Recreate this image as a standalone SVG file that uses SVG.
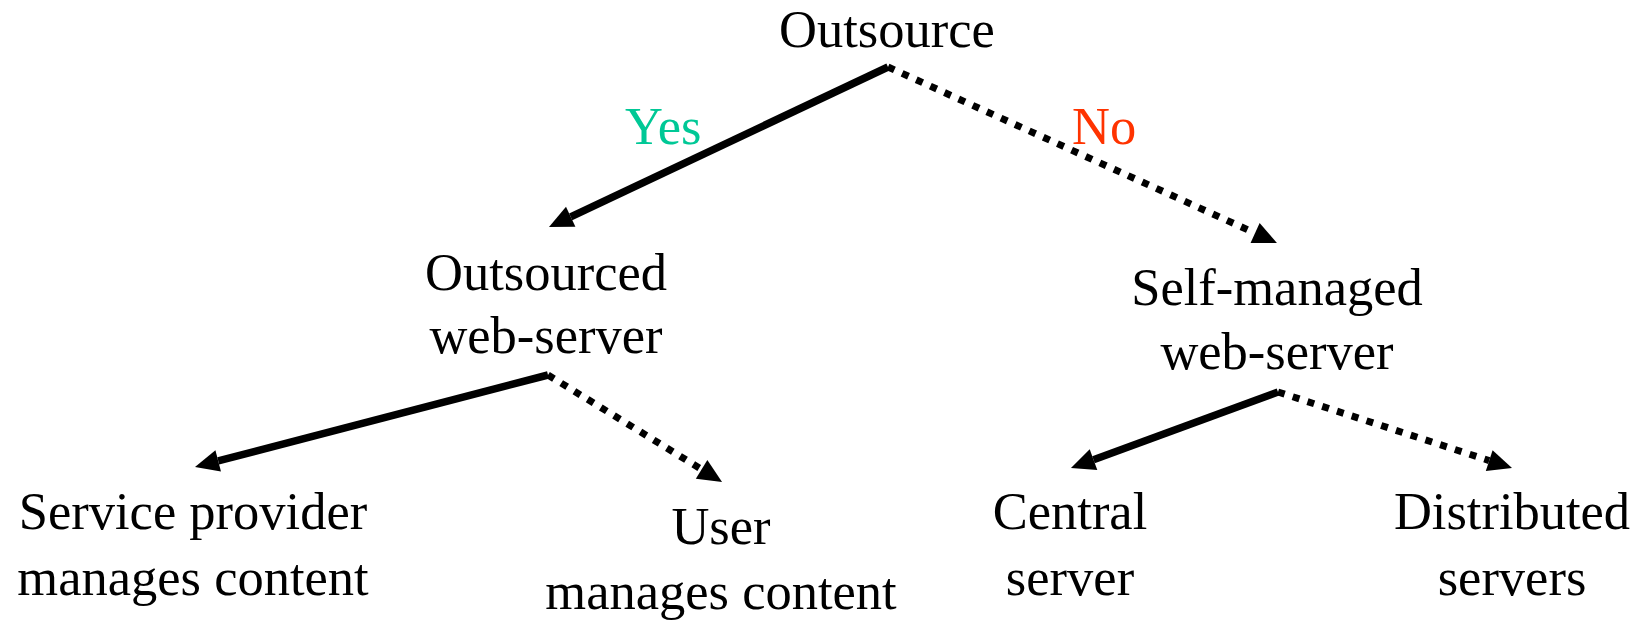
<svg xmlns="http://www.w3.org/2000/svg" width="1643" height="620" viewBox="0 0 1643 620">
  <style>
    text { font-family: "Liberation Serif", "Times New Roman", serif; font-size: 52.5px; fill: #000; text-anchor: middle; }
    .yes { fill: #00c896; text-anchor: start; }
    .no { fill: #ff3300; text-anchor: start; }
    .solid { stroke: #000; stroke-width: 7.5; fill: none; marker-end: url(#head); }
    .dotted { stroke: #000; stroke-width: 7; fill: none; stroke-dasharray: 7 8.5; marker-end: url(#head); }
  </style>
  <defs>
    <!-- filled triangular arrowhead; the line stops at the triangle's base -->
    <marker id="head" markerUnits="userSpaceOnUse" markerWidth="26" markerHeight="24" refX="0" refY="11" orient="auto" overflow="visible">
      <path d="M0,0 L24,11 L0,22 Z" fill="#000"/>
    </marker>
  </defs>
  <rect width="1643" height="620" fill="#fff"/>

  <g id="connectors">
    <line class="solid" x1="888" y1="67" x2="570.7" y2="216.8"/>
    <line class="dotted" x1="888" y1="67" x2="1255.1" y2="233.1"/>
    <line class="solid" x1="548" y1="375" x2="218.2" y2="460.9"/>
    <line class="dotted" x1="548" y1="375" x2="701.6" y2="469.4"/>
    <line class="solid" x1="1278" y1="392" x2="1093.5" y2="459.7"/>
    <line class="dotted" x1="1278" y1="392" x2="1489.2" y2="460.6"/>
    <text class="yes" x="625" y="144">Yes</text>
    <text class="no" x="1072" y="144">No</text>
  </g>

  <g id="outsource">
    <text x="887" y="47">Outsource</text>
  </g>
  <g id="outsourced-web-server">
    <text x="546" y="290">Outsourced</text>
    <text x="546" y="353">web-server</text>
  </g>
  <g id="self-managed-web-server">
    <text x="1277" y="305">Self-managed</text>
    <text x="1277" y="369">web-server</text>
  </g>
  <g id="provider-manages">
    <text x="193" y="529">Service provider</text>
    <text x="193" y="595">manages content</text>
  </g>
  <g id="user-manages">
    <text x="721" y="544">User</text>
    <text x="721" y="609">manages content</text>
  </g>
  <g id="central-server">
    <text x="1070" y="529">Central</text>
    <text x="1070" y="595">server</text>
  </g>
  <g id="distributed-servers">
    <text x="1512" y="529">Distributed</text>
    <text x="1512" y="595">servers</text>
  </g>
</svg>
